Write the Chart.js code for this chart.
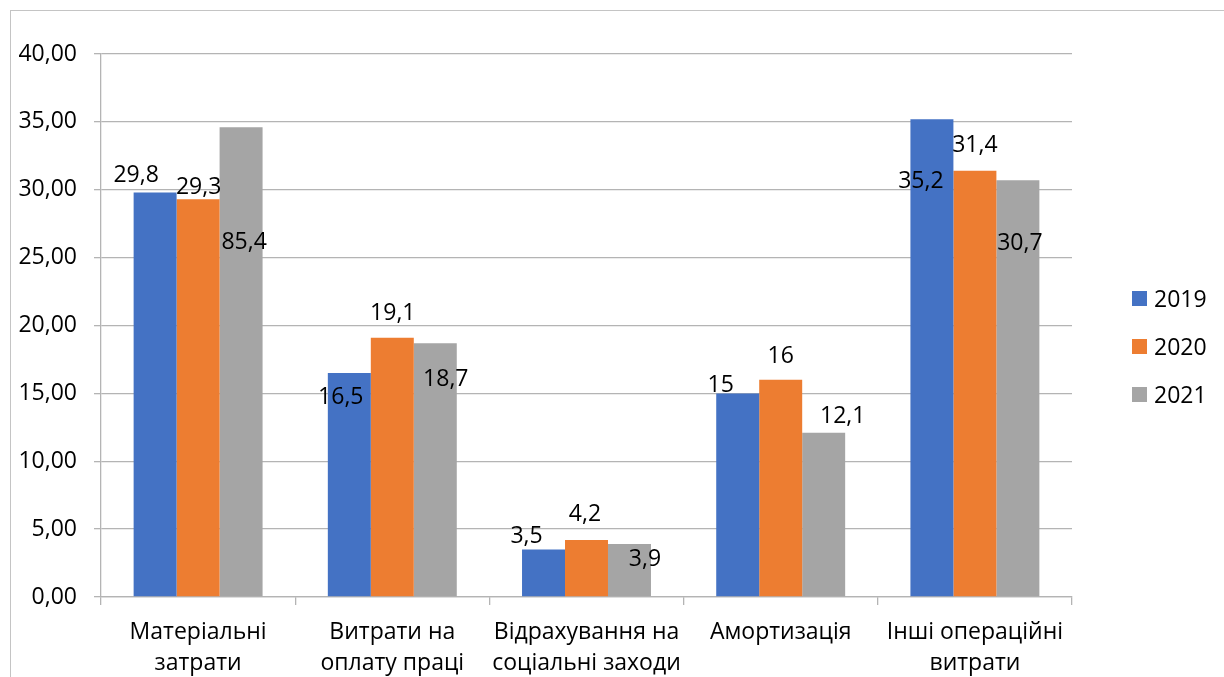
<!DOCTYPE html>
<html lang="uk">
<head>
<meta charset="utf-8">
<title>Структура витрат</title>
<script src="https://cdn.jsdelivr.net/npm/chart.js@4.4.1/dist/chart.umd.min.js"></script>
<style>
    html, body { margin: 0; padding: 0; background: #fff; overflow: hidden; }
    #frame {
        position: absolute; left: 10px; top: 10px; width: 1400px; height: 900px;
        border-top: 1.5px solid #c4c4c4; border-left: 1.5px solid #c4c4c4;
    }
    #wrap { position: absolute; left: 0; top: 0; width: 1224px; height: 677px; }
</style>
</head>
<body>
<div id="frame"></div>
<div id="wrap"><canvas id="costChart" width="1224" height="677"></canvas></div>
<script>
// --- Дані ---
const categories = [
    ['Матеріальні', 'затрати'],
    ['Витрати на', 'оплату праці'],
    ['Відрахування на', 'соціальні заходи'],
    ['Амортизація'],
    ['Інші операційні', 'витрати']
];
const years = ['2019', '2020', '2021'];
const values2019 = [29.8, 16.5, 3.5, 15, 35.2];
const values2020 = [29.3, 19.1, 4.2, 16, 31.4];
const values2021 = [34.6, 18.7, 3.9, 12.1, 30.7];
// підписи даних (як на рисунку)
const labels2019 = ['29,8', '16,5', '3,5', '15', '35,2'];
const labels2020 = ['29,3', '19,1', '4,2', '16', '31,4'];
const labels2021 = ['85,4', '18,7', '3,9', '12,1', '30,7'];

// --- Стиль ---
const FONT = '"Open Sans", "Noto Sans", sans-serif';
const FONT_SIZE = 23;
const GRID = '#b4b4b4';
const colors = ['#4472C4', '#ED7D31', '#A5A5A5'];
// зсув підпису від верху стовпця (dx, dy), пікселі
const labelOffsets = [
    [[-19, -18.5], [-8.5, 22.5], [-17, -14.5], [-17, -10], [-11, 61]],
    [[0.5, -14], [0.5, -25.5], [-1.5, -27.5], [0, -25], [0, -27]],
    [[3, 113], [10.5, 35], [15.5, 13.5], [19, -18], [2, 61]]
];
const valueTexts = [labels2019, labels2020, labels2021];

const capHalf = FONT_SIZE * 0.36; // від центру цифр до базової лінії

// --- Підписи значень ---
const valueLabels = {
    id: 'valueLabels',
    afterDatasetsDraw(chart) {
        const ctx = chart.ctx;
        ctx.save();
        ctx.font = `${FONT_SIZE}px ${FONT}`;
        ctx.fillStyle = '#000';
        ctx.textAlign = 'center';
        ctx.textBaseline = 'alphabetic';
        chart.data.datasets.forEach((ds, i) => {
            chart.getDatasetMeta(i).data.forEach((bar, j) => {
                const [dx, dy] = labelOffsets[i][j];
                ctx.fillText(valueTexts[i][j], bar.x + dx, bar.y + dy + capHalf);
            });
        });
        ctx.restore();
    }
};

// --- Легенда праворуч ---
const sideLegend = {
    id: 'sideLegend',
    afterDraw(chart) {
        const ctx = chart.ctx;
        ctx.save();
        ctx.font = `${FONT_SIZE}px ${FONT}`;
        ctx.textAlign = 'left';
        ctx.textBaseline = 'alphabetic';
        chart.data.datasets.forEach((ds, i) => {
            const cy = 298.5 + i * 48;
            ctx.fillStyle = ds.backgroundColor;
            ctx.fillRect(1132, cy - 7.5, 15, 15);
            ctx.fillStyle = '#000';
            ctx.fillText(ds.label, 1154, cy + capHalf);
        });
        ctx.restore();
    }
};

const costChart = new Chart(
    document.getElementById('costChart').getContext('2d'),
    {
        type: 'bar',
        data: {
            labels: categories,
            datasets: [
                { label: years[0], data: values2019, backgroundColor: colors[0] },
                { label: years[1], data: values2020, backgroundColor: colors[1] },
                { label: years[2], data: values2021, backgroundColor: colors[2] }
            ]
        },
        options: {
            responsive: false,
            animation: false,
            devicePixelRatio: 1,
            categoryPercentage: 0.664,
            barPercentage: 1.0,
            layout: { padding: { top: 54, right: 152, left: 0, bottom: 0 } },
            plugins: {
                legend: { display: false },
                tooltip: { enabled: false }
            },
            scales: {
                x: {
                    grid: {
                        drawOnChartArea: false,
                        drawTicks: true,
                        tickLength: 8,
                        offset: true,
                        color: GRID,
                        lineWidth: 1.3
                    },
                    border: { display: true, color: GRID, width: 1.3 },
                    ticks: {
                        color: '#000',
                        font: { family: FONT, size: FONT_SIZE, lineHeight: 1.35 },
                        padding: 12,
                        maxRotation: 0,
                        autoSkip: false
                    },
                    afterFit(scale) { scale.height = 80; }
                },
                y: {
                    min: 0,
                    max: 40,
                    grid: { color: GRID, lineWidth: 1.3, tickLength: 7 },
                    border: { display: true, color: GRID, width: 1.3 },
                    ticks: {
                        stepSize: 5,
                        color: '#000',
                        font: { family: FONT, size: FONT_SIZE },
                        padding: 17,
                        callback: v => v.toFixed(2).replace('.', ',')
                    },
                    afterFit(scale) { scale.width = 101; }
                }
            }
        },
        plugins: [valueLabels, sideLegend]
    }
);
</script>
</body>
</html>
